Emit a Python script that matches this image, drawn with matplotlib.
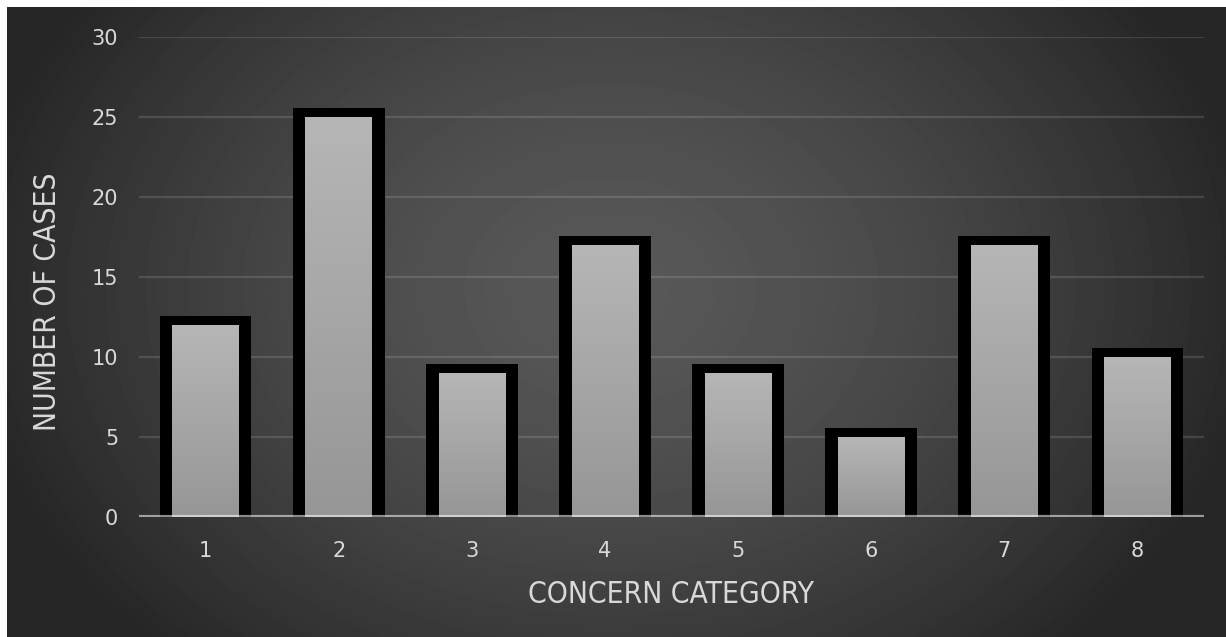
import numpy as np
import matplotlib.pyplot as plt
from matplotlib.colors import LinearSegmentedColormap

# data
categories = ['1', '2', '3', '4', '5', '6', '7', '8']
cases = [12, 25, 9, 17, 9, 5, 17, 10]

text_color = '#d9d9d9'

fig = plt.figure(figsize=(12.26, 6.37), dpi=100, facecolor='white')

# dark panel with radial gradient (white strip on top and left)
bg = fig.add_axes([7 / 1226, 0, 1219 / 1226, 630 / 637])
bg.set_axis_off()
ny, nx = 630, 1219
yy, xx = np.mgrid[0:ny, 0:nx]
r = np.sqrt(((xx - 603) / 650) ** 2 + ((yy - 283) / 500) ** 2)
r = np.clip(r, 0, 1)
shade = 0.345 - (0.345 - 0.149) * r ** 1.5
bg.imshow(shade, cmap='gray', vmin=0, vmax=1, aspect='auto',
          interpolation='bilinear')

ax = fig.add_axes([139 / 1226, (637 - 517) / 637, (1204 - 139) / 1226, 480 / 637])
ax.set_facecolor('none')

x = np.arange(len(categories))
pad_x, pad_y = 0.095, 0.55
inner_w = 0.5

# black frames drawn outside the fill
ax.bar(x, np.array(cases) + pad_y, width=inner_w + 2 * pad_x,
       color='black', zorder=2)

# gradient fill per bar
bar_cmap = LinearSegmentedColormap.from_list('barfill', ['#969696', '#b6b6b6'])
grad = np.linspace(0, 1, 256).reshape(-1, 1)
for xi, v in zip(x, cases):
    ax.imshow(grad, cmap=bar_cmap, origin='lower', aspect='auto',
              extent=(xi - inner_w / 2, xi + inner_w / 2, 0, v), zorder=3)

ax.set_xlim(-0.5, len(categories) - 0.5)
ax.set_ylim(0, 30)
ax.set_yticks(np.arange(0, 31, 5))
ax.set_xticks(x)
ax.set_xticklabels(categories)

# gridlines and base line
for yv in np.arange(5, 31, 5):
    ax.axhline(yv, color='white', alpha=0.13, linewidth=1.6, zorder=1)
ax.axhline(0, color='white', alpha=0.55, linewidth=3, zorder=4)

for s in ax.spines.values():
    s.set_visible(False)
ax.tick_params(length=0, colors=text_color, labelsize=15)
ax.tick_params(axis='y', pad=15)
ax.tick_params(axis='x', pad=17)

ax.set_xlabel('CONCERN CATEGORY', color=text_color, fontsize=21.5,
              family='DejaVu Sans', fontstretch='condensed', labelpad=14)
ax.set_ylabel('NUMBER OF CASES', color=text_color, fontsize=21.5,
              family='DejaVu Sans', fontstretch='condensed')
ax.yaxis.set_label_coords(-0.072, 0.448)

fig.savefig('out.png', dpi=100, facecolor='white')
